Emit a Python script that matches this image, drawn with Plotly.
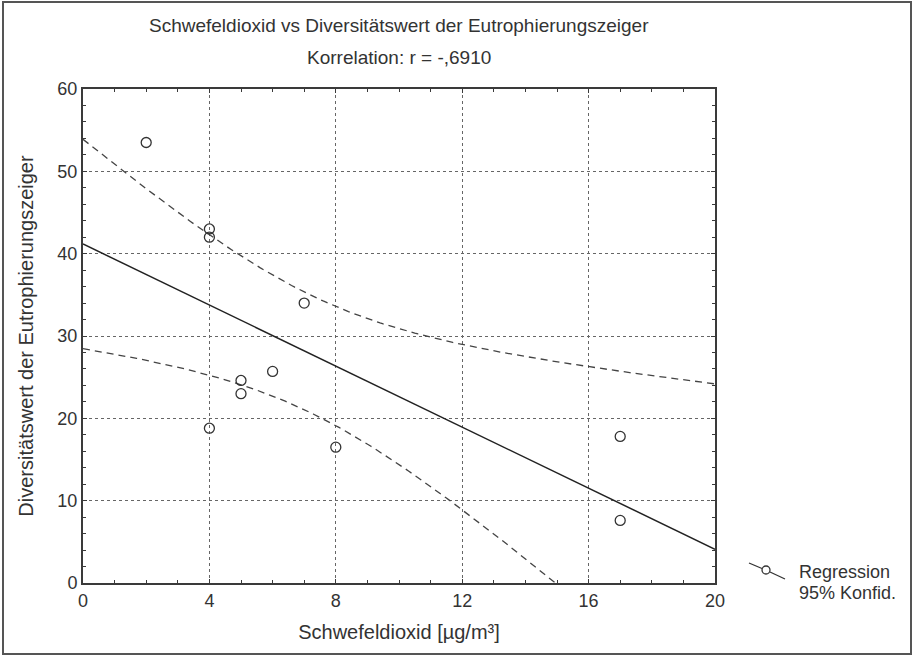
import numpy as np
import plotly.graph_objects as go

# ---- data ----
so2 = [2, 4, 4, 4, 5, 5, 6, 7, 8, 17, 17]
diversity = [53.5, 43.0, 42.0, 18.8, 24.6, 23.0, 25.7, 34.0, 16.5, 17.8, 7.6]
x_ticks = [0, 4, 8, 12, 16, 20]
y_ticks = [0, 10, 20, 30, 40, 50, 60]
title_line1 = "Schwefeldioxid vs Diversitätswert der Eutrophierungszeiger"
title_line2 = "Korrelation: r = -,6910"
x_title = "Schwefeldioxid [µg/m³]"
y_title = "Diversitätswert der Eutrophierungszeiger"
legend_lines = ["Regression", "95% Konfid."]
t_crit = 2.262  # t(0.975, df=9)

# ---- regression and 95% confidence band computed from the data ----
x = np.array(so2, float)
y = np.array(diversity, float)
n = len(x)
slope, intercept = np.polyfit(x, y, 1)
resid = y - (intercept + slope * x)
s = np.sqrt(np.sum(resid**2) / (n - 2))
sxx = np.sum((x - x.mean())**2)
xs = np.linspace(0, 20, 201)
fit = intercept + slope * xs
half = t_crit * s * np.sqrt(1 / n + (xs - x.mean())**2 / sxx)
upper = fit + half
lower = fit - half

W, H = 912, 656
L, R, T, B = 83, 197, 89, 73
PW, PH = W - L - R, H - T - B

def px(xp):
    return (xp - L) / PW

def py(yp):
    return (H - B - yp) / PH

FONT = "Liberation Sans, Arial, sans-serif"
TXT = "#333333"
AX = "#3a3a3a"

fig = go.Figure()
fig.add_trace(go.Scatter(x=xs, y=upper, mode="lines",
                         line=dict(color="#444444", width=1.3, dash="7px,5px"),
                         hoverinfo="skip", showlegend=False))
fig.add_trace(go.Scatter(x=xs, y=lower, mode="lines",
                         line=dict(color="#444444", width=1.3, dash="7px,5px"),
                         hoverinfo="skip", showlegend=False))
fig.add_trace(go.Scatter(x=xs, y=fit, mode="lines",
                         line=dict(color="#222222", width=1.5),
                         showlegend=False))
fig.add_trace(go.Scatter(x=so2, y=diversity, mode="markers",
                         marker=dict(symbol="circle-open", size=10,
                                     color="#333333", line=dict(width=1.3)),
                         showlegend=False))

axis_common = dict(
    showline=True, linecolor=AX, linewidth=2, mirror="allticks",
    ticks="inside", ticklen=4, tickcolor=AX, tickwidth=1,
    showgrid=True, gridcolor="#666666", griddash="dot", gridwidth=1,
    zeroline=False,
    tickfont=dict(family=FONT, size=18, color=TXT),
    title_font=dict(family=FONT, size=20, color=TXT),
)

fig.update_xaxes(range=[0, 20], tickvals=x_ticks, ticktext=[str(v) for v in x_ticks],
                 minor=dict(dtick=1, tick0=0, ticks="inside", ticklen=3,
                            tickcolor=AX, showgrid=False),
                 title_text=x_title, title_standoff=15, **axis_common)
fig.update_yaxes(range=[0, 60], tickvals=y_ticks, ticktext=[str(v) for v in y_ticks],
                 minor=dict(dtick=2, tick0=0, ticks="inside", ticklen=3,
                            tickcolor=AX, showgrid=False),
                 title_text=y_title, title_standoff=18, **axis_common)

annotations = [
    dict(text=title_line1, x=0.5, y=py(25), xref="paper", yref="paper",
         showarrow=False, xanchor="center", yanchor="middle",
         font=dict(family=FONT, size=19, color=TXT)),
    dict(text=title_line2, x=0.5, y=py(58), xref="paper", yref="paper",
         showarrow=False, xanchor="center", yanchor="middle",
         font=dict(family=FONT, size=19, color=TXT)),
    dict(text=legend_lines[0], x=px(797), y=py(572), xref="paper", yref="paper",
         showarrow=False, xanchor="left", yanchor="middle",
         font=dict(family=FONT, size=18, color=TXT)),
    dict(text=legend_lines[1], x=px(797), y=py(593), xref="paper", yref="paper",
         showarrow=False, xanchor="left", yanchor="middle",
         font=dict(family=FONT, size=18, color=TXT)),
]

shapes = [
    # outer frame
    dict(type="rect", xref="paper", yref="paper",
         x0=px(3), x1=px(911), y0=py(654), y1=py(2),
         line=dict(color="#555555", width=2), fillcolor="rgba(0,0,0,0)", layer="above"),
    # legend glyph: slanted line with open circle
    dict(type="line", xref="paper", yref="paper",
         x0=px(749), y0=py(563), x1=px(762), y1=py(568.5),
         line=dict(color="#333333", width=1.3)),
    dict(type="line", xref="paper", yref="paper",
         x0=px(770), y0=py(572), x1=px(785), y1=py(579),
         line=dict(color="#333333", width=1.3)),
    dict(type="circle", xref="paper", yref="paper",
         x0=px(762), x1=px(770), y0=py(574), y1=py(566),
         line=dict(color="#333333", width=1.3)),
]

fig.update_layout(
    width=W, height=H,
    margin=dict(l=L, r=R, t=T, b=B, autoexpand=False),
    paper_bgcolor="white", plot_bgcolor="white",
    showlegend=False,
    annotations=annotations, shapes=shapes,
    font=dict(family=FONT, color=TXT),
)

fig.write_html("out.html",
               config={"displayModeBar": False},
               post_script="document.body.style.margin='0px';document.body.style.padding='0px';")
